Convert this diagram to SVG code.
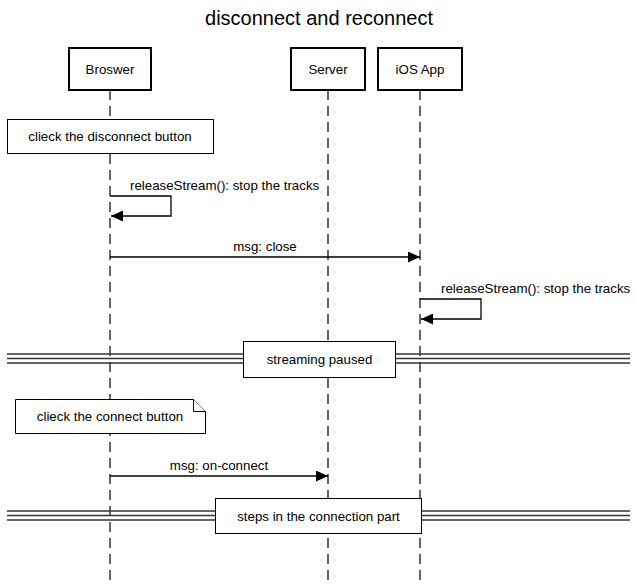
<svg xmlns="http://www.w3.org/2000/svg" width="637" height="586" viewBox="0 0 637 586">
<style>
text{font-family:"Liberation Sans",Arial,Helvetica,sans-serif;fill:#000}
.t{font-size:20px}
.l{font-size:13.3px}
.part{fill:#fff;stroke:#000;stroke-width:2}
.life{stroke:#000;stroke-width:1.2;stroke-dasharray:10 6;fill:none}
.note{fill:#fff;stroke:#000;stroke-width:1}
.msg{stroke:#000;stroke-width:1.3;fill:none}
.div{stroke:#333;stroke-width:1.3}
</style>
<defs>
<marker id="ah" markerWidth="12" markerHeight="11" refX="12" refY="5.5" orient="auto" markerUnits="userSpaceOnUse">
<path d="M0,0 L12,5.5 L0,11 Z" fill="#000"/>
</marker>
</defs>
<rect width="637" height="586" fill="#fff"/>
<text class="t" x="319" y="25" text-anchor="middle">disconnect and reconnect</text>

<g id="lifelines">
<line class="life" x1="110" y1="90" x2="110" y2="586"/>
<line class="life" x1="328" y1="90" x2="328" y2="586"/>
<line class="life" x1="420" y1="90" x2="420" y2="586"/>
</g>

<g id="p-browser">
<rect class="part" x="69" y="48" width="82" height="42"/>
<text class="l" x="110" y="73.5" text-anchor="middle">Broswer</text>
</g>
<g id="p-server">
<rect class="part" x="291" y="48" width="74" height="42"/>
<text class="l" x="328" y="73.5" text-anchor="middle">Server</text>
</g>
<g id="p-ios">
<rect class="part" x="378" y="48" width="84" height="42"/>
<text class="l" x="420" y="73.5" text-anchor="middle">iOS App</text>
</g>

<g id="note-disconnect">
<rect class="note" x="7.5" y="119.5" width="206" height="34"/>
<text class="l" x="110" y="141" text-anchor="middle">clieck the disconnect button</text>
</g>

<g id="connectors">
<path class="msg" d="M110,196 H171 V216 H111" marker-end="url(#ah)"/>
<text class="l" x="130" y="190">releaseStream(): stop the tracks</text>
<line class="msg" x1="110" y1="257" x2="420" y2="257" marker-end="url(#ah)"/>
<text class="l" x="265" y="251" text-anchor="middle">msg: close</text>
<path class="msg" d="M420,299 H481 V319 H421" marker-end="url(#ah)"/>
<text class="l" x="441" y="293">releaseStream(): stop the tracks</text>
<line class="msg" x1="110" y1="476" x2="328" y2="476" marker-end="url(#ah)"/>
<text class="l" x="219" y="470" text-anchor="middle">msg: on-connect</text>
</g>

<g id="divider-paused">
<line class="div" x1="7" y1="354" x2="630" y2="354"/>
<line class="div" x1="7" y1="358.5" x2="630" y2="358.5"/>
<line class="div" x1="7" y1="363" x2="630" y2="363"/>
<rect class="note" x="243.5" y="341.5" width="152" height="36"/>
<text class="l" x="319.5" y="364" text-anchor="middle">streaming paused</text>
</g>

<g id="note-connect">
<path class="note" d="M15.5,399.5 H193.5 L205.5,411.5 V433.5 H15.5 Z"/>
<path class="note" d="M193.5,399.5 V411.5 H205.5" fill="none"/>
<text class="l" x="110" y="421" text-anchor="middle">clieck the connect button</text>
</g>

<g id="divider-steps">
<line class="div" x1="7" y1="511" x2="630" y2="511"/>
<line class="div" x1="7" y1="515.5" x2="630" y2="515.5"/>
<line class="div" x1="7" y1="520" x2="630" y2="520"/>
<rect class="note" x="215.5" y="498.5" width="206" height="35"/>
<text class="l" x="318.5" y="520.5" text-anchor="middle">steps in the connection part</text>
</g>
</svg>
